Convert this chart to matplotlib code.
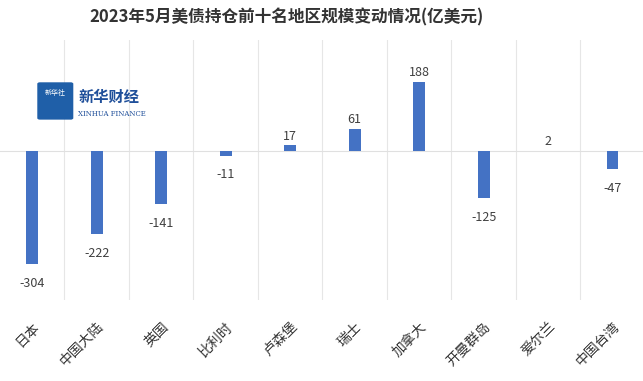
import matplotlib.pyplot as plt
from matplotlib.patches import FancyBboxPatch
import numpy as np

plt.rcParams['font.family'] = ['Noto Sans CJK SC', 'DejaVu Sans']

regions = ['日本', '中国大陆', '英国', '比利时', '卢森堡', '瑞士', '加拿大', '开曼群岛', '爱尔兰', '中国台湾']
changes = [-304, -222, -141, -11, 17, 61, 188, -125, 2, -47]

fig = plt.figure(figsize=(6.43, 3.81), dpi=100)
ax = fig.add_axes([0.0, 0.2126, 1.003, 0.6824])

x = np.arange(len(regions))
ax.bar(x, changes, width=0.18, color='#4472C4', zorder=3)

# value labels above / below the bars
for xi, v in zip(x, changes):
    if v >= 0:
        ax.text(xi, v + 24, str(v), ha='center', va='center', fontsize=9, color='#404040')
    else:
        ax.text(xi, v - 52, str(v), ha='center', va='center', fontsize=9, color='#404040')

ax.set_xlim(-0.5, len(regions) - 0.5)
ax.set_ylim(-400, 300)

# faint separators between categories and zero line
for b in np.arange(0.5, len(regions) - 0.5, 1):
    ax.axvline(b, color='#e6e6e6', lw=0.8, zorder=1)
ax.axhline(0, color='#e0e0e0', lw=0.8, zorder=2)

ax.set_xticks(x)
ax.set_xticklabels(regions, rotation=45, ha='right', rotation_mode='anchor',
                   fontsize=10, color='#333333')
ax.tick_params(axis='x', length=0, pad=14)
ax.set_yticks([])
for s in ax.spines.values():
    s.set_visible(False)

fig.text(0.445, 0.955, '2023年5月美债持仓前十名地区规模变动情况(亿美元)',
         ha='center', va='center', fontsize=12, color='#333333', fontweight='bold')

# watermark logo
logo = FancyBboxPatch((0.062, 0.69), 0.048, 0.09, boxstyle='round,pad=0.004',
                      transform=fig.transFigure, facecolor='#1f5fa8', edgecolor='none')
fig.patches.append(logo)
fig.text(0.086, 0.755, '新华社', ha='center', va='center', fontsize=5, color='white')
fig.text(0.122, 0.745, '新华财经', ha='left', va='center', fontsize=11,
         color='#1f4f9a', style='italic', fontweight='bold')
fig.text(0.122, 0.702, 'XINHUA FINANCE', ha='left', va='center', fontsize=5,
         color='#1f4f9a', family='DejaVu Serif')

fig.savefig('out.png', dpi=100, facecolor='white')
